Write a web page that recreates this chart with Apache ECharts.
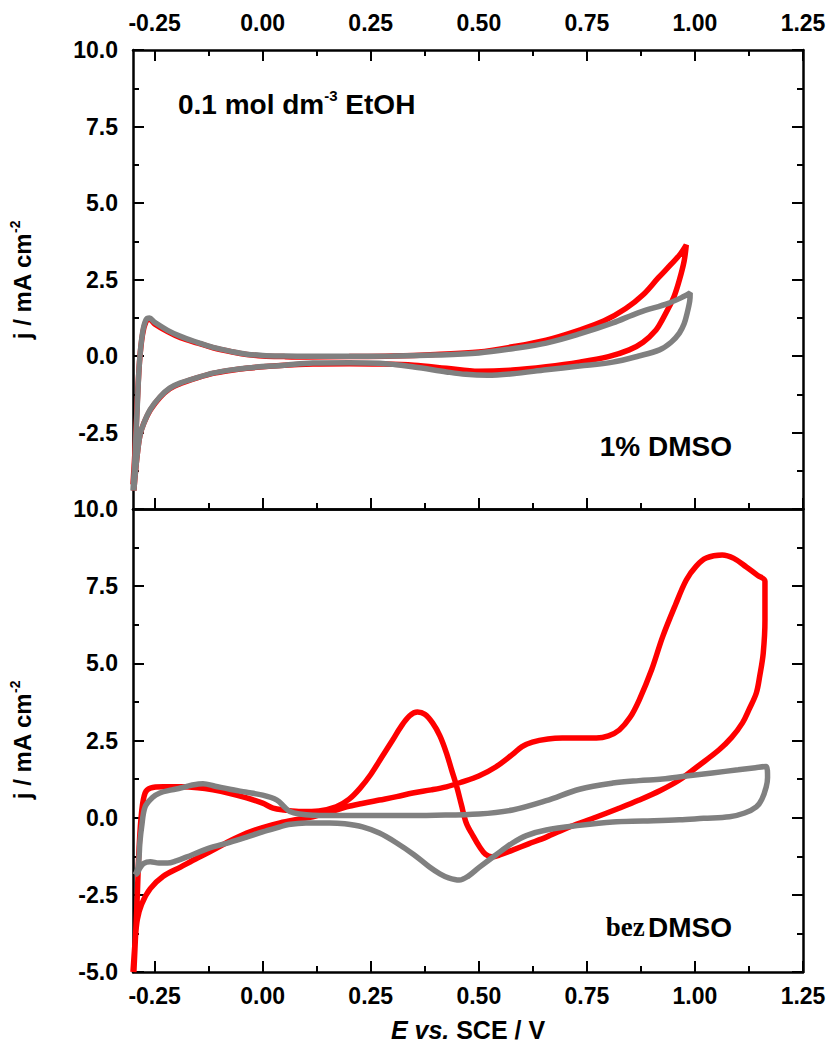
<!DOCTYPE html>
<html>
<head>
<meta charset="utf-8">
<script src="https://cdn.jsdelivr.net/npm/echarts@6/dist/echarts.min.js"></script>
<style>
html,body{margin:0;padding:0;background:#fff;}
#chart{width:829px;height:1046px;}
</style>
</head>
<body>
<div id="chart"></div>
<script>
// ---- Data (E vs. SCE / V, j / mA cm^-2) ----
const xMajorTicks = [-0.25, 0, 0.25, 0.5, 0.75, 1.0, 1.25];
const xMinorTicks = [-0.125, 0.125, 0.375, 0.625, 0.875, 1.125];

// Top panel: 1% DMSO
const topRed = [
  [-0.300,-4.2],[-0.295,-3.0],[-0.290,-1.5],[-0.285,-0.2],[-0.278,0.7],[-0.270,1.12],[-0.262,1.2],[-0.250,1.05],
  [-0.220,0.8],[-0.190,0.6],[-0.150,0.42],[-0.115,0.27],[-0.070,0.13],[-0.037,0.05],[0.000,0.0],[0.050,-0.02],
  [0.100,-0.03],[0.200,-0.02],[0.300,0.0],[0.400,0.05],[0.500,0.13],[0.578,0.3],[0.656,0.52],[0.733,0.85],
  [0.790,1.15],[0.840,1.55],[0.880,2.0],[0.915,2.55],[0.945,3.0],[0.966,3.33],[0.980,3.63],
  [0.975,3.1],[0.964,2.48],[0.952,1.95],[0.940,1.6],[0.925,1.2],[0.910,0.85],[0.880,0.45],[0.848,0.2],
  [0.800,-0.02],[0.733,-0.2],[0.656,-0.35],[0.578,-0.46],[0.500,-0.5],[0.425,-0.4],[0.350,-0.3],[0.270,-0.26],
  [0.200,-0.25],[0.116,-0.26],[0.050,-0.3],[-0.037,-0.4],[-0.080,-0.48],[-0.115,-0.57],[-0.150,-0.71],
  [-0.190,-0.9],[-0.215,-1.07],[-0.238,-1.36],[-0.260,-1.77],[-0.275,-2.2],[-0.284,-2.6],[-0.290,-3.2],
  [-0.295,-3.9],[-0.298,-4.4]
];
const topGray = [
  [-0.300,-4.4],[-0.295,-3.2],[-0.290,-1.6],[-0.285,-0.2],[-0.278,0.75],[-0.270,1.18],[-0.262,1.24],[-0.250,1.1],
  [-0.220,0.84],[-0.190,0.64],[-0.150,0.44],[-0.115,0.28],[-0.070,0.14],[-0.037,0.06],[0.000,0.02],[0.050,0.0],
  [0.100,-0.01],[0.200,-0.01],[0.300,0.0],[0.400,0.03],[0.500,0.1],[0.578,0.24],[0.656,0.42],[0.733,0.72],
  [0.810,1.08],[0.870,1.42],[0.940,1.73],[0.975,1.95],[0.989,2.06],
  [0.988,1.8],[0.982,1.4],[0.975,1.05],[0.964,0.75],[0.945,0.45],[0.918,0.2],[0.870,0.0],[0.810,-0.2],
  [0.733,-0.33],[0.656,-0.45],[0.578,-0.58],[0.520,-0.63],[0.470,-0.6],[0.425,-0.52],[0.350,-0.36],[0.270,-0.24],
  [0.200,-0.22],[0.116,-0.23],[0.050,-0.3],[-0.037,-0.39],[-0.080,-0.47],[-0.115,-0.56],[-0.150,-0.7],
  [-0.190,-0.88],[-0.215,-1.05],[-0.238,-1.34],[-0.260,-1.75],[-0.275,-2.2],[-0.284,-2.6],[-0.290,-3.2],
  [-0.295,-3.9],[-0.298,-4.4]
];

// Bottom panel: bez DMSO
const botRed = [
  [-0.300,-5.0],[-0.295,-4.0],[-0.290,-3.3],[-0.280,-2.8],[-0.260,-2.3],[-0.230,-1.9],[-0.190,-1.6],[-0.150,-1.3],
  [-0.115,-1.05],[-0.075,-0.75],[-0.037,-0.5],[0.000,-0.32],[0.040,-0.17],[0.080,-0.06],[0.116,0.03],[0.155,0.18],
  [0.194,0.35],[0.230,0.46],[0.270,0.57],[0.310,0.68],[0.347,0.8],[0.390,0.9],[0.425,1.0],[0.460,1.15],
  [0.500,1.35],[0.540,1.65],[0.578,2.05],[0.600,2.3],[0.624,2.45],[0.660,2.55],[0.693,2.58],[0.730,2.58],
  [0.772,2.58],[0.800,2.65],[0.825,2.84],[0.850,3.25],[0.871,3.81],[0.900,4.8],[0.925,5.85],[0.955,6.9],
  [0.980,7.7],[1.003,8.15],[1.026,8.41],[1.063,8.51],[1.090,8.4],[1.119,8.12],[1.145,7.85],[1.162,7.66],
  [1.162,6.4],[1.158,5.33],[1.150,4.6],[1.142,4.04],[1.125,3.5],[1.110,3.07],[1.085,2.6],[1.056,2.2],
  [1.010,1.7],[0.964,1.22],[0.920,0.88],[0.871,0.57],[0.820,0.28],[0.772,0.02],[0.710,-0.3],[0.656,-0.63],
  [0.615,-0.85],[0.578,-1.05],[0.550,-1.2],[0.530,-1.27],[0.515,-1.18],[0.502,-0.95],[0.487,-0.6],[0.471,-0.17],
  [0.460,0.4],[0.449,1.0],[0.437,1.55],[0.425,2.1],[0.410,2.65],[0.393,3.07],[0.375,3.35],[0.358,3.42],
  [0.340,3.3],[0.320,2.95],[0.300,2.5],[0.275,1.95],[0.250,1.4],[0.225,0.95],[0.200,0.6],[0.170,0.35],
  [0.130,0.22],[0.090,0.2],[0.050,0.25],[0.024,0.31],[0.000,0.47],[-0.037,0.64],[-0.075,0.78],[-0.115,0.9],
  [-0.150,0.97],[-0.190,1.0],[-0.230,1.0],[-0.260,0.96],[-0.272,0.8],[-0.280,0.2],[-0.286,-1.0],[-0.290,-2.5],
  [-0.294,-3.8],[-0.298,-5.0]
];
const botGray = [
  [-0.295,-1.85],[-0.288,-1.6],[-0.284,-0.8],[-0.280,-0.3],[-0.272,0.35],[-0.255,0.65],[-0.238,0.8],[-0.210,0.9],
  [-0.190,0.96],[-0.165,1.05],[-0.138,1.1],[-0.110,1.02],[-0.076,0.92],[-0.040,0.83],[0.000,0.73],[0.033,0.57],
  [0.050,0.35],[0.063,0.2],[0.085,0.12],[0.116,0.08],[0.200,0.07],[0.300,0.07],[0.400,0.08],[0.500,0.12],
  [0.578,0.25],[0.656,0.55],[0.733,0.92],[0.810,1.12],[0.870,1.2],[0.925,1.25],[0.980,1.35],[1.040,1.45],
  [1.100,1.55],[1.140,1.62],[1.165,1.66],
  [1.168,1.3],[1.165,1.0],[1.155,0.6],[1.142,0.35],[1.115,0.15],[1.080,0.03],[1.020,-0.02],[0.964,-0.07],
  [0.880,-0.11],[0.810,-0.14],[0.733,-0.25],[0.656,-0.4],[0.610,-0.58],[0.578,-0.82],[0.540,-1.2],[0.500,-1.62],
  [0.475,-1.9],[0.455,-2.02],[0.430,-1.95],[0.410,-1.82],[0.386,-1.6],[0.350,-1.2],[0.310,-0.82],[0.270,-0.5],
  [0.231,-0.3],[0.190,-0.2],[0.155,-0.17],[0.100,-0.17],[0.060,-0.22],[0.040,-0.3],[0.000,-0.46],[-0.037,-0.63],
  [-0.076,-0.8],[-0.115,-0.95],[-0.145,-1.1],[-0.175,-1.27],[-0.200,-1.4],[-0.220,-1.47],[-0.240,-1.47],
  [-0.260,-1.43],[-0.275,-1.48],[-0.284,-1.63],[-0.290,-1.8],[-0.295,-1.85]
];

const RED = '#ff0000', GRAY = '#808080';
const FONT = '"Liberation Sans", Arial, sans-serif';
const SERIF = '"Liberation Serif", "Times New Roman", serif';

const chart = echarts.init(document.getElementById('chart'), null, {renderer: 'svg'});

const axLine = {show: true, onZero: false, lineStyle: {color: '#000', width: 2.5}};
const noLine = {show: false, onZero: false};
function xAx(grid, pos, opts) {
  return Object.assign({
    type: 'value', gridIndex: grid, position: pos, min: -0.3, max: 1.25,
    axisLine: axLine, splitLine: {show: false},
    axisTick: {show: false}, axisLabel: {show: false}
  }, opts);
}
const majorTick = {show: true, inside: true, length: 11, lineStyle: {color: '#000', width: 2}, customValues: xMajorTicks};
const minorTickX = {show: true, inside: true, length: 6, lineStyle: {color: '#000', width: 2}, customValues: xMinorTicks};
const xLabel = {show: true, customValues: xMajorTicks, color: '#000', fontFamily: FONT, fontWeight: 'bold', fontSize: 23,
  formatter: v => v.toFixed(2)};

function yAx(grid, pos, labels, hideMin) {
  return {
    type: 'value', gridIndex: grid, position: pos, min: -5, max: 10, interval: 2.5,
    axisLine: axLine, splitLine: {show: false},
    axisTick: {show: true, inside: true, length: 11, lineStyle: {color: '#000', width: 2}},
    minorTick: {show: true, splitNumber: 2, length: 6, lineStyle: {color: '#000', width: 2}},
    minorSplitLine: {show: false},
    axisLabel: labels ? {show: true, margin: 15, color: '#000', fontFamily: FONT, fontWeight: 'bold', fontSize: 23,
      formatter: v => (hideMin && v === -5) ? '' : v.toFixed(1)} : {show: false}
  };
}

const lineSeries = (data, color, xi, yi) => ({
  type: 'line', data: data, xAxisIndex: xi, yAxisIndex: yi, showSymbol: false, symbol: 'none',
  smooth: 0.35, lineStyle: {color: color, width: 5.5}, itemStyle: {color: color}, animation: false
});

const rich = {
  n: {fontSize: 28, fontWeight: 'bold', fontFamily: FONT, color: '#000', lineHeight: 32},
  s: {fontSize: 15, fontWeight: 'bold', fontFamily: FONT, color: '#000', lineHeight: 15, verticalAlign: 'top'},
  yn: {fontSize: 24, fontWeight: 'bold', fontFamily: FONT, color: '#000', lineHeight: 28},
  ys: {fontSize: 14, fontWeight: 'bold', fontFamily: FONT, color: '#000', lineHeight: 14, verticalAlign: 'top'},
  xi: {fontSize: 25, fontWeight: 'bold', fontStyle: 'italic', fontFamily: FONT, color: '#000'},
  xn: {fontSize: 25, fontWeight: 'bold', fontFamily: FONT, color: '#000'},
  serif: {fontSize: 27, fontWeight: 'bold', fontFamily: SERIF, color: '#000', lineHeight: 32}
};

const option = {
  animation: false,
  backgroundColor: '#fff',
  grid: [
    {left: 133, top: 50, width: 670, height: 459},
    {left: 133, top: 509, width: 670, height: 463}
  ],
  xAxis: [
    xAx(0, 'bottom', {axisTick: majorTick}),
    xAx(0, 'bottom', {axisLine: noLine, axisTick: minorTickX}),
    xAx(0, 'top', {axisTick: majorTick, axisLabel: Object.assign({}, xLabel, {margin: 16})}),
    xAx(0, 'top', {axisLine: noLine, axisTick: minorTickX}),
    xAx(1, 'bottom', {axisTick: majorTick, axisLabel: Object.assign({}, xLabel, {margin: 12})}),
    xAx(1, 'bottom', {axisLine: noLine, axisTick: minorTickX}),
    xAx(1, 'top', {})
  ],
  yAxis: [
    yAx(0, 'left', true, true),
    yAx(0, 'right', false),
    yAx(1, 'left', true, false),
    yAx(1, 'right', false)
  ],
  series: [
    lineSeries(topRed, RED, 0, 0),
    lineSeries(topGray, GRAY, 0, 0),
    lineSeries(botRed, RED, 4, 2),
    lineSeries(botGray, GRAY, 4, 2)
  ],
  graphic: [
    {type: 'text', left: 178, top: 88, style: {text: '{n|0.1 mol dm}{s|-3}{n| EtOH}', rich: rich}},
    {type: 'text', x: 732, y: 446, style: {text: '1% DMSO', font: 'bold 28px ' + FONT, fill: '#000', align: 'right', verticalAlign: 'middle'}},
    {type: 'text', x: 732, y: 927, style: {text: '{serif|bez} {n|DMSO}', rich: rich, align: 'right', verticalAlign: 'middle'}},
    {type: 'text', x: 22, y: 280, rotation: Math.PI / 2, style: {text: '{yn|j / mA cm}{ys|-2}', rich: rich, align: 'center', verticalAlign: 'middle'}},
    {type: 'text', x: 22, y: 740, rotation: Math.PI / 2, style: {text: '{yn|j / mA cm}{ys|-2}', rich: rich, align: 'center', verticalAlign: 'middle'}},
    {type: 'text', x: 468, y: 1030, style: {text: '{xi|E vs.}{xn| SCE / V}', rich: rich, align: 'center', verticalAlign: 'middle'}}
  ]
};
chart.setOption(option);
</script>
</body>
</html>
